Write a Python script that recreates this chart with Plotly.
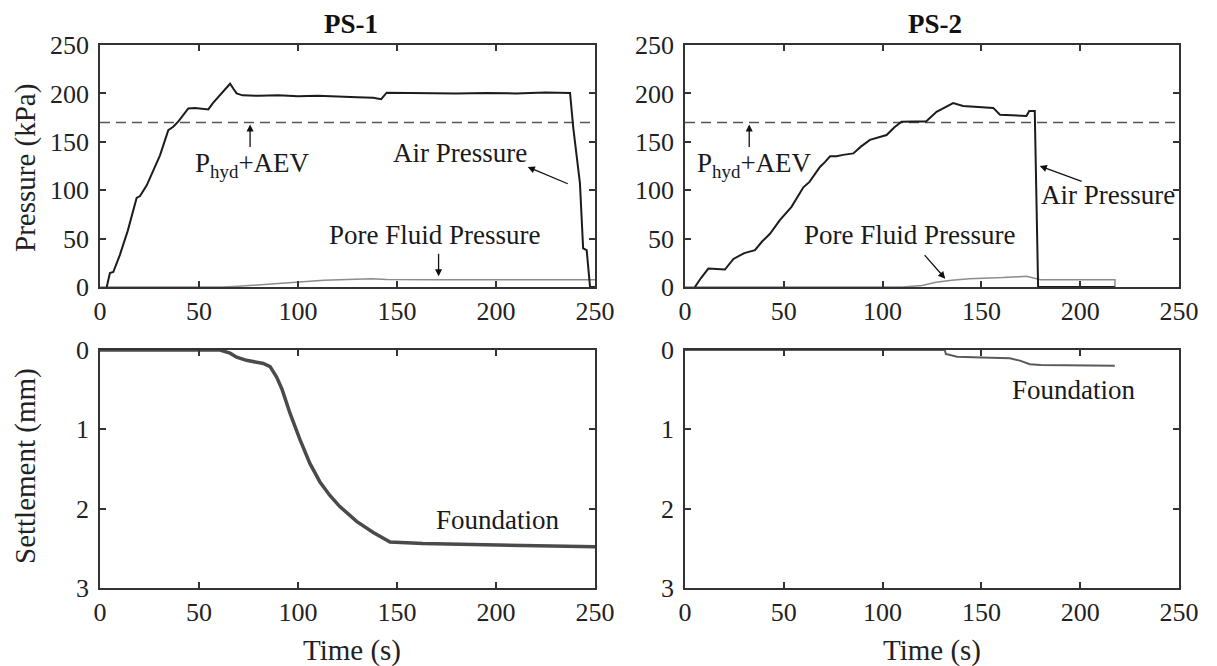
import plotly.graph_objects as go

# ---------------- data ----------------
# PS-1 air pressure
ps1_air_t = [3.4, 5, 6.7, 10, 14, 18.5, 20.2, 23.6, 27, 30.3, 34.5, 37, 39.6, 42, 44.6, 48, 52, 54.7,
             57, 59.8, 62, 64.8, 65.7, 67.3, 69, 72, 80, 90, 100, 110, 120, 130, 138, 142, 144.8,
             155, 165, 180, 195, 210, 225, 237.4, 239, 242.4, 244, 245.8, 247.5, 250]
ps1_air_p = [0, 14.5, 15.5, 33, 58, 92, 94, 105, 120.7, 136, 162, 165.5, 171, 178, 184.5, 185, 184, 183.5,
             190, 196.5, 202, 208.6, 210, 205, 200, 198, 197.5, 198, 197, 197.5, 196.5, 196, 195.5, 194, 200.7,
             200.5, 201, 200, 200.5, 200, 201, 200.5, 165, 107, 40, 38, 0, 0]
# PS-1 pore fluid pressure
ps1_pore_t = [0, 62, 70, 80, 96, 113, 137, 145, 170, 200, 230, 250]
ps1_pore_p = [0, 0, 0.8, 2.2, 4.5, 6.9, 8.6, 7.8, 7.6, 7.5, 7.5, 7.4]
# PS-2 air pressure
ps2_air_t = [5, 8, 11.8, 15, 20.2, 24.5, 30, 35.4, 39, 43, 48, 53.9, 59.9, 63, 68.3, 70.8, 73.4, 76.7,
             80, 85.2, 89, 93.6, 98, 102, 106, 109.6, 116, 122, 127.3, 132, 135.7, 140.7, 148, 156,
             159.4, 166, 172.8, 174.2, 177, 178.7, 217.5]
ps2_air_p = [0, 9, 19, 18.5, 18, 29, 35, 38, 47, 55, 69, 82.8, 103, 108.6, 124, 129, 135, 135,
             136.5, 138, 145, 152, 155, 157, 165, 170.7, 171, 171, 181, 186, 190, 187, 186, 185,
             178, 177, 176.6, 181.7, 181.7, 0, 0]
# PS-2 pore fluid pressure
ps2_pore_t = [0, 110, 120, 127, 135, 144, 161, 172.8, 180, 217.6, 217.6]
ps2_pore_p = [0, 0, 1.5, 5, 7, 8.6, 9.7, 11, 7.6, 7.6, 0]
# settlement (mm)
ps1_set_t = [0, 60.6, 65.7, 69, 74, 82.5, 85.9, 89.2, 92, 96, 101, 106, 111, 116, 121, 129.6, 138,
             146.5, 163, 200, 250]
ps1_set_s = [0, 0, 0.04, 0.09, 0.13, 0.17, 0.21, 0.34, 0.5, 0.8, 1.13, 1.43, 1.66, 1.83, 1.97, 2.16, 2.3,
             2.42, 2.44, 2.46, 2.48]
ps2_set_t = [0, 131.5, 132, 137.7, 150, 164.4, 169.5, 174.5, 180, 194.7, 217.5]
ps2_set_s = [0, 0, 0.05, 0.084, 0.095, 0.105, 0.134, 0.18, 0.19, 0.197, 0.2]
# reference line P_hyd + AEV (kPa)
phyd_aev = 170
time_range = [0, 250]

x_ticks = [0, 50, 100, 150, 200, 250]
p_ticks = [0, 50, 100, 150, 200, 250]
s_ticks = [0, 1, 2, 3]

# ---------------- figure ----------------
# the page body has an 8px margin; lay the figure out in window pixels minus that offset
OFF = 8
W, H = 1217 - OFF, 666 - OFF
FONT = "Liberation Serif"
DARK = "#1c1c1c"
AX = "#333333"

def px_x(px):
    return (px - OFF) / W

def px_y(py):
    return 1 - (py - OFF) / H

fig = go.Figure()

def line(x, y, xa, ya, color, width, dash=None):
    fig.add_trace(go.Scatter(x=x, y=y, xaxis=xa, yaxis=ya, mode="lines",
                             line=dict(color=color, width=width, dash=dash),
                             showlegend=False, hoverinfo="skip"))

# top row: pressure
line(time_range, [phyd_aev, phyd_aev], "x", "y", "#555555", 1.5, "10px,6px")
line(ps1_pore_t, ps1_pore_p, "x", "y", "#8c8c8c", 1.5)
line(ps1_air_t, ps1_air_p, "x", "y", DARK, 2)
line(time_range, [phyd_aev, phyd_aev], "x2", "y2", "#555555", 1.5, "10px,6px")
line(ps2_pore_t, ps2_pore_p, "x2", "y2", "#8c8c8c", 1.5)
line(ps2_air_t, ps2_air_p, "x2", "y2", DARK, 2)
# bottom row: settlement
line(ps1_set_t, ps1_set_s, "x3", "y3", "#4a4a4a", 3.5)
line(ps2_set_t, ps2_set_s, "x4", "y4", "#5a5a5a", 2)

doms_x = {1: [px_x(100), px_x(595)], 2: [px_x(685), px_x(1179)],
          3: [px_x(100), px_x(595)], 4: [px_x(685), px_x(1179)]}
doms_y = {1: [px_y(287), px_y(45)], 2: [px_y(287), px_y(45)],
          3: [px_y(588), px_y(350)], 4: [px_y(588), px_y(350)]}

axcommon = dict(showline=True, mirror="ticks", ticks="inside", ticklen=6, tickwidth=1.5,
                tickcolor=AX, linecolor=AX, linewidth=1.6, showgrid=False, zeroline=False,
                tickfont=dict(family=FONT, size=26, color="#222"), automargin=False,
                fixedrange=True)

layout_axes = {}
for i in range(1, 5):
    sx = "" if i == 1 else str(i)
    yr = [0, 250] if i <= 2 else [3, 0]
    yt = p_ticks if i <= 2 else s_ticks
    layout_axes["xaxis" + sx] = dict(axcommon, domain=doms_x[i], range=time_range, tickvals=x_ticks,
                                     anchor="y" + sx, ticklabelstandoff=0)
    layout_axes["yaxis" + sx] = dict(axcommon, domain=doms_y[i], range=yr, tickvals=yt,
                                     anchor="x" + sx, ticklabelstandoff=4)

ann = []
TF = dict(family=FONT, size=27, color="#1a1a1a")

def text(t, x, y, xr, yr, size=27):
    ann.append(dict(text=t, x=x, y=y, xref=xr, yref=yr, showarrow=False,
                    xanchor="center", yanchor="middle", font=dict(TF, size=size)))

def arrow(x0, y0, x1, y1, xr, yr):
    ann.append(dict(text="", x=x1, y=y1, ax=x0, ay=y0, xref=xr, yref=yr, axref=xr, ayref=yr,
                    showarrow=True, arrowhead=2, arrowsize=1.1, arrowwidth=1.3,
                    arrowcolor="#111", standoff=0, startstandoff=0))

# PS-1 annotations
text("P<sub>hyd</sub>+AEV", 77, 126, "x", "y")
arrow(75.8, 143, 75.8, 168, "x", "y")
text("Air Pressure", 182, 138, "x", "y")
arrow(237, 106, 216, 124, "x", "y")
text("Pore Fluid Pressure", 169, 53.4, "x", "y")
arrow(171, 36, 171, 11, "x", "y")
# PS-2 annotations
text("P<sub>hyd</sub>+AEV", 35, 126, "x2", "y2")
arrow(32.5, 143, 32.5, 168, "x2", "y2")
text("Air Pressure", 214, 95, "x2", "y2")
arrow(201.5, 108.6, 179.5, 125, "x2", "y2")
text("Pore Fluid Pressure", 114, 53.4, "x2", "y2")
arrow(120.6, 34.5, 131.7, 8.6, "x2", "y2")
# settlement labels
text("Foundation", 201, 2.14, "x3", "y3")
text("Foundation", 197, 0.5, "x4", "y4")

# titles and axis titles
for cx, t in ((351, "<b>PS-1</b>"), (935, "<b>PS-2</b>")):
    ann.append(dict(text=t, x=px_x(cx), y=px_y(24), xref="paper", yref="paper",
                    showarrow=False, xanchor="center", yanchor="middle",
                    font=dict(family=FONT, size=27, color="#111")))
ann.append(dict(text="Pressure (kPa)", x=px_x(25), y=px_y(168), xref="paper", yref="paper",
                showarrow=False, textangle=-90, xanchor="center", yanchor="middle",
                font=dict(family=FONT, size=29, color="#222")))
ann.append(dict(text="Settlement (mm)", x=px_x(25), y=px_y(466), xref="paper", yref="paper",
                showarrow=False, textangle=-90, xanchor="center", yanchor="middle",
                font=dict(family=FONT, size=29, color="#222")))
for cx in (352, 932):
    ann.append(dict(text="Time (s)", x=px_x(cx), y=px_y(650), xref="paper", yref="paper",
                    showarrow=False, xanchor="center", yanchor="middle",
                    font=dict(family=FONT, size=29, color="#222")))

fig.update_layout(width=W, height=H, margin=dict(l=0, r=0, t=0, b=0),
                  paper_bgcolor="white", plot_bgcolor="white", showlegend=False,
                  annotations=ann, **layout_axes)

fig.write_html("out.html")
